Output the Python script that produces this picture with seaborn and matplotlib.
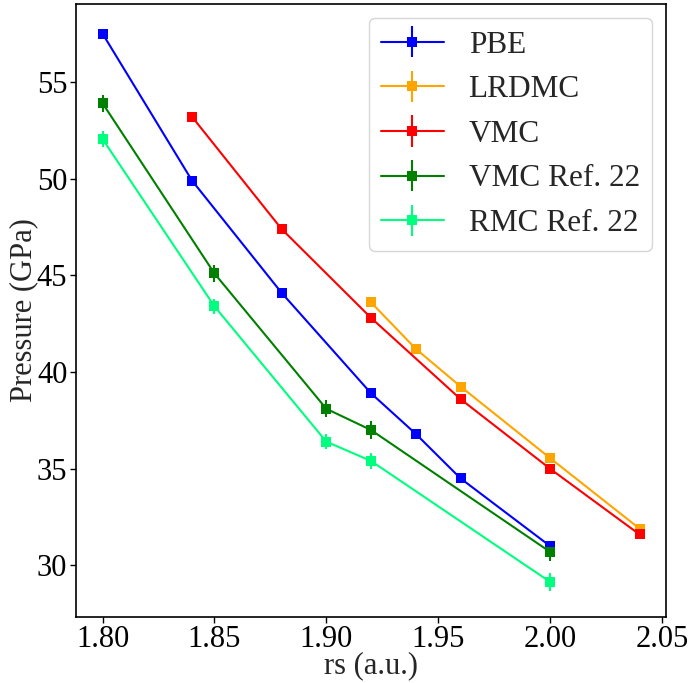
import numpy as np
import pandas as pd
import matplotlib
matplotlib.use("Agg")
import matplotlib.pyplot as plt
import seaborn as sns
from matplotlib.container import ErrorbarContainer

# ---- data ----
pbe_rs = [1.80, 1.84, 1.88, 1.92, 1.94, 1.96, 2.00]
pbe_p = [57.5, 49.9, 44.1, 38.9, 36.8, 34.5, 31.0]
pbe_err = [0.0, 0.0, 0.0, 0.0, 0.0, 0.0, 0.0]

lrdmc_rs = [1.92, 1.94, 1.96, 2.00, 2.04]
lrdmc_p = [43.6, 41.2, 39.25, 35.55, 31.9]
lrdmc_err = [0.1, 0.1, 0.1, 0.1, 0.1]

vmc_rs = [1.84, 1.88, 1.92, 1.96, 2.00, 2.04]
vmc_p = [53.2, 47.4, 42.8, 38.6, 35.0, 31.6]
vmc_err = [0.1, 0.1, 0.1, 0.1, 0.1, 0.1]

vmc22_rs = [1.80, 1.85, 1.90, 1.92, 2.00]
vmc22_p = [53.9, 45.1, 38.1, 37.0, 30.7]
vmc22_err = [0.45, 0.45, 0.45, 0.45, 0.45]

rmc22_rs = [1.80, 1.85, 1.90, 1.92, 2.00]
rmc22_p = [52.05, 43.4, 36.4, 35.4, 29.15]
rmc22_err = [0.4, 0.4, 0.4, 0.4, 0.45]

series = [
    ("PBE", pbe_rs, pbe_p, pbe_err, "#0000ff"),
    ("LRDMC", lrdmc_rs, lrdmc_p, lrdmc_err, "#ffa500"),
    ("VMC", vmc_rs, vmc_p, vmc_err, "#ff0000"),
    ("VMC Ref. 22", vmc22_rs, vmc22_p, vmc22_err, "#008000"),
    ("RMC Ref. 22", rmc22_rs, rmc22_p, rmc22_err, "#00ff7f"),
]

sns.set_style("ticks")
plt.rcParams["font.family"] = ["Liberation Serif", "DejaVu Serif"]
plt.rcParams["mathtext.fontset"] = "stix"

fig = plt.figure(figsize=(6.88, 6.83), dpi=100)
ax = fig.add_axes([0.110, 0.0966, 0.8586, 0.8975])

handles = []
for name, xs, ys, es, col in series:
    df = pd.DataFrame({"rs": xs, "P": ys})
    sns.lineplot(data=df, x="rs", y="P", ax=ax, color=col, marker="s",
                 markersize=6.5, markeredgewidth=0, linewidth=1.5,
                 legend=False, zorder=3)
    line = ax.lines[-1]
    eb = ax.errorbar(xs, ys, yerr=es, fmt="none", ecolor=col,
                     elinewidth=1.5, capsize=0, zorder=2)
    h = ErrorbarContainer((line, (), eb.lines[2]), has_xerr=False,
                          has_yerr=True, label=name)
    handles.append(h)

ax.set_xlim(1.788, 2.052)
ax.set_ylim(27.33, 59.03)
ax.set_xticks([1.80, 1.85, 1.90, 1.95, 2.00, 2.05])
ax.set_xticklabels(["1.80", "1.85", "1.90", "1.95", "2.00", "2.05"])
ax.set_yticks([30, 35, 40, 45, 50, 55])
ax.tick_params(labelsize=22, direction="out", length=4, width=1,
               colors="black", pad=2)
for s in ax.spines.values():
    s.set_color("black")
    s.set_linewidth(1.2)
ax.set_xlabel("rs (a.u.)", fontsize=22, labelpad=-2)
ax.set_ylabel("Pressure (GPa)", fontsize=22, labelpad=-1)

ax.legend(handles=handles, labels=[s[0] for s in series], loc="upper right",
          fontsize=22.5, frameon=True, borderaxespad=0.45)

fig.savefig("out.png", dpi=100)
